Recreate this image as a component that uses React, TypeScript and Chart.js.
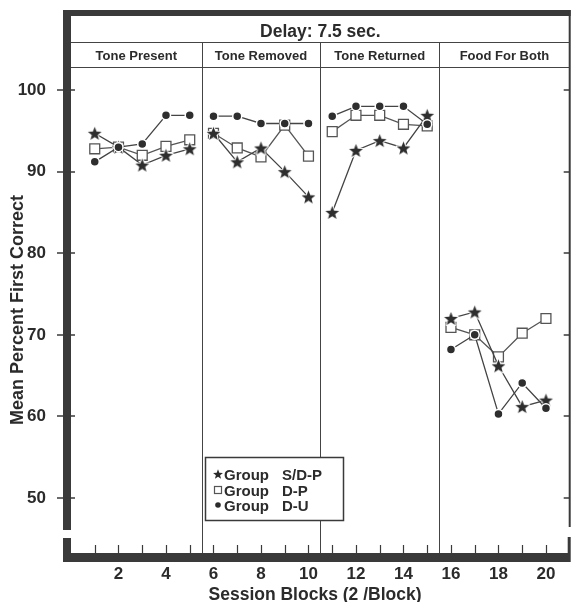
import React, { useEffect, useRef } from 'react';
import { Chart, registerables } from 'chart.js';

Chart.register(...registerables);

// ---------- data ----------
const blocks = [1, 2, 3, 4, 5, 6, 7, 8, 9, 10, 11, 12, 13, 14, 15, 16, 17, 18, 19, 20];
const groupSDP = [94.7, 93, 90.8, 92, 92.8, 94.7, 91.2, 92.9, 90, 86.9, 85, 92.6, 93.8, 92.9, 96.9, 72, 72.8, 66.2, 61.2, 62];
const groupDP = [92.8, 93, 92, 93.1, 93.9, 94.7, 92.9, 91.8, 95.7, 91.9, 94.9, 96.9, 96.9, 95.8, 95.6, 70.9, 70, 67.3, 70.2, 72];
const groupDU = [91.2, 93, 93.4, 96.9, 96.9, 96.8, 96.8, 95.9, 95.9, 95.9, 96.8, 98, 98, 98, 95.8, 68.2, 70, 60.3, 64.1, 61];
const seriesNames = ['Group S/D-P', 'Group D-P', 'Group D-U'];
const panelTitles = ['Tone Present', 'Tone Removed', 'Tone Returned', 'Food For Both'];
const panelEnds = [5, 10, 15];
const yTicks = [50, 60, 70, 80, 90, 100];
const xTickLabels = [2, 4, 6, 8, 10, 12, 14, 16, 18, 20];
const headerTitle = 'Delay: 7.5 sec.';
const xTitle = 'Session Blocks (2 /Block)';
const yTitle = 'Mean Percent First Correct';

const FONT = "'Liberation Sans', Arial, Helvetica, sans-serif";
const INK = '#2b2b2b';
const FRAME = '#3a3a3a';
const LINE = '#444444';

function toPoints(vals: number[]) {
  const pts: { x: number; y: number | null }[] = [];
  blocks.forEach((b, i) => {
    pts.push({ x: b, y: vals[i] });
    if (panelEnds.includes(b)) pts.push({ x: b + 0.5, y: null });
  });
  return pts;
}

function starPath(g: CanvasRenderingContext2D, cx: number, cy: number, R: number, r: number) {
  g.beginPath();
  for (let i = 0; i < 10; i++) {
    const rad = i % 2 === 0 ? R : r;
    const a = -Math.PI / 2 + (i * Math.PI) / 5;
    g.lineTo(cx + rad * Math.cos(a), cy + rad * Math.sin(a));
  }
  g.closePath();
}

function makeStar(R: number, r: number, fill: string, halo: number) {
  const size = Math.ceil(R * 2 + halo * 2 + 2);
  const c = document.createElement('canvas');
  c.width = size;
  c.height = size;
  const g = c.getContext('2d')!;
  starPath(g, size / 2, size / 2 + R * 0.1, R, r);
  if (halo > 0) {
    g.lineWidth = halo * 2;
    g.lineJoin = 'round';
    g.strokeStyle = '#ffffff';
    g.stroke();
  }
  g.fillStyle = fill;
  g.fill();
  return c;
}

const framePlugin = {
  id: 'frame',
  beforeDatasetsDraw(chart: any) {
    const { ctx, chartArea, scales } = chart;
    const xs = scales.x;
    ctx.save();
    ctx.strokeStyle = LINE;
    ctx.lineWidth = 1;
    panelEnds.forEach((e) => {
      const px = Math.round(xs.getPixelForValue(e + 0.5)) + 0.5;
      ctx.beginPath();
      ctx.moveTo(px, 42);
      ctx.lineTo(px, chartArea.bottom);
      ctx.stroke();
    });
    ctx.restore();
  },
  afterDatasetsDraw(chart: any) {
    const { ctx } = chart;
    ctx.save();
    const bx = 205, by = 457, bw = 138, bh = 63;
    ctx.fillStyle = '#ffffff';
    ctx.fillRect(bx, by, bw, bh);
    ctx.strokeStyle = '#3a3a3a';
    ctx.lineWidth = 1.5;
    ctx.strokeRect(bx + 0.5, by + 0.5, bw, bh);
    const rows = [474, 490, 505];
    ctx.font = `bold 15px ${FONT}`;
    ctx.textBaseline = 'alphabetic';
    seriesNames.forEach((name, i) => {
      const cy = rows[i];
      const mx = 218;
      if (i === 0) {
        ctx.fillStyle = INK;
        starPath(ctx, mx, cy + 0.5, 5.2, 2.2);
        ctx.fill();
      } else if (i === 1) {
        ctx.fillStyle = '#fff';
        ctx.fillRect(mx - 3.5, cy - 3.5, 7, 7);
        ctx.strokeStyle = '#555';
        ctx.lineWidth = 1.2;
        ctx.strokeRect(mx - 3.5, cy - 3.5, 7, 7);
      } else {
        ctx.fillStyle = INK;
        ctx.beginPath();
        ctx.arc(mx, cy, 2.8, 0, Math.PI * 2);
        ctx.fill();
      }
      const sp = name.indexOf(' ');
      ctx.fillStyle = INK;
      ctx.textAlign = 'left';
      ctx.fillText(name.slice(0, sp), 224, cy + 6);
      ctx.fillText(name.slice(sp + 1), 282, cy + 6);
    });
    ctx.restore();
  },
  afterDraw(chart: any) {
    const { ctx, chartArea, scales } = chart;
    const { left, right, top, bottom } = chartArea;
    const xs = scales.x;
    const ys = scales.y;
    ctx.save();
    ctx.fillStyle = FRAME;
    ctx.fillRect(left - 8, 10, right + 1 - (left - 8), 6);
    ctx.fillRect(left - 8, 10, 8, 520);
    ctx.fillRect(left - 8, 538, 8, bottom + 9 - 538);
    ctx.fillRect(right - 1, 10, 2, 517);
    ctx.fillRect(right - 2, 537, 3, bottom - 537);
    ctx.fillRect(left - 8, bottom, right + 1 - (left - 8), 9);

    ctx.strokeStyle = LINE;
    ctx.lineWidth = 1;
    ctx.beginPath();
    ctx.moveTo(left, 42.5);
    ctx.lineTo(right, 42.5);
    ctx.moveTo(left, top - 0.5);
    ctx.lineTo(right, top - 0.5);
    ctx.stroke();

    ctx.strokeStyle = FRAME;
    ctx.lineWidth = 1.5;
    yTicks.forEach((v) => {
      const py = Math.round(ys.getPixelForValue(v));
      ctx.beginPath();
      ctx.moveTo(left - 14, py);
      ctx.lineTo(left + 4, py);
      ctx.moveTo(right - 6, py);
      ctx.lineTo(right, py);
      ctx.stroke();
    });
    ctx.lineWidth = 1.2;
    blocks.forEach((b) => {
      const px = Math.round(xs.getPixelForValue(b)) + 0.5;
      ctx.beginPath();
      ctx.moveTo(px, bottom - 8);
      ctx.lineTo(px, bottom);
      ctx.stroke();
    });

    ctx.fillStyle = INK;
    ctx.textAlign = 'center';
    ctx.textBaseline = 'alphabetic';
    ctx.font = `bold 17.5px ${FONT}`;
    ctx.fillText(headerTitle, (left + right) / 2, 37);
    ctx.font = `bold 13px ${FONT}`;
    const bounds = [xs.min, ...panelEnds.map((e) => e + 0.5), xs.max];
    panelTitles.forEach((t, i) => {
      const x0 = xs.getPixelForValue(bounds[i]);
      const x1 = xs.getPixelForValue(bounds[i + 1]);
      ctx.fillText(t, (x0 + x1) / 2, 60);
    });

    ctx.font = `bold 17.5px ${FONT}`;
    ctx.fillText(xTitle, 315, 600);
    ctx.save();
    ctx.translate(23, 310);
    ctx.rotate(-Math.PI / 2);
    ctx.font = `bold 18px ${FONT}`;
    ctx.fillText(yTitle, 0, 0);
    ctx.restore();

    ctx.restore();
  },
};

export default function App() {
  const ref = useRef<HTMLCanvasElement>(null);
  useEffect(() => {
    const star = makeStar(7.2, 3.1, '#2e2e2e', 1);
    const chart = new Chart(ref.current!, {
      type: 'line',
      data: {
        datasets: [
          {
            label: seriesNames[0],
            data: toPoints(groupSDP) as any,
            borderColor: LINE,
            borderWidth: 1.3,
            pointStyle: star as any,
            pointRadius: 7,
            order: 2,
          },
          {
            label: seriesNames[1],
            data: toPoints(groupDP) as any,
            borderColor: '#555',
            borderWidth: 1.3,
            pointStyle: 'rect',
            pointRadius: 7,
            pointBackgroundColor: '#ffffff',
            pointBorderColor: '#555',
            pointBorderWidth: 1.3,
            order: 3,
          },
          {
            label: seriesNames[2],
            data: toPoints(groupDU) as any,
            borderColor: LINE,
            borderWidth: 1.3,
            pointStyle: 'circle',
            pointRadius: 4.5,
            pointBackgroundColor: '#2e2e2e',
            pointBorderColor: '#ffffff',
            pointBorderWidth: 1.5,
            order: 1,
          },
        ],
      },
      options: {
        responsive: false,
        devicePixelRatio: 1,
        animation: false,
        layout: { padding: { top: 68, right: 4, left: 0, bottom: 0 } },
        plugins: { legend: { display: false }, tooltip: { enabled: false } },
        scales: {
          x: {
            type: 'linear',
            min: 0,
            max: 21,
            grid: { display: false },
            border: { display: false },
            afterBuildTicks: (s: any) => {
              s.ticks = xTickLabels.map((v) => ({ value: v }));
            },
            afterFit: (s: any) => {
              s.height = 49;
            },
            ticks: {
              autoSkip: false,
              maxRotation: 0,
              padding: 3,
              color: INK,
              font: { family: FONT, size: 17, weight: 'bold' },
            },
          },
          y: {
            type: 'linear',
            min: 43.26,
            max: 102.7,
            grid: { display: false },
            border: { display: false },
            afterBuildTicks: (s: any) => {
              s.ticks = yTicks.map((v) => ({ value: v }));
            },
            afterFit: (s: any) => {
              s.width = 71;
            },
            ticks: {
              padding: 17,
              color: INK,
              font: { family: FONT, size: 17, weight: 'bold' },
            },
          },
        },
      },
      plugins: [framePlugin],
    });
    return () => chart.destroy();
  }, []);
  return (
    <div style={{ position: 'fixed', left: 0, top: 0, width: 578, height: 602, background: '#fff' }}>
      <canvas ref={ref} width={578} height={602} style={{ display: 'block' }} />
    </div>
  );
}
